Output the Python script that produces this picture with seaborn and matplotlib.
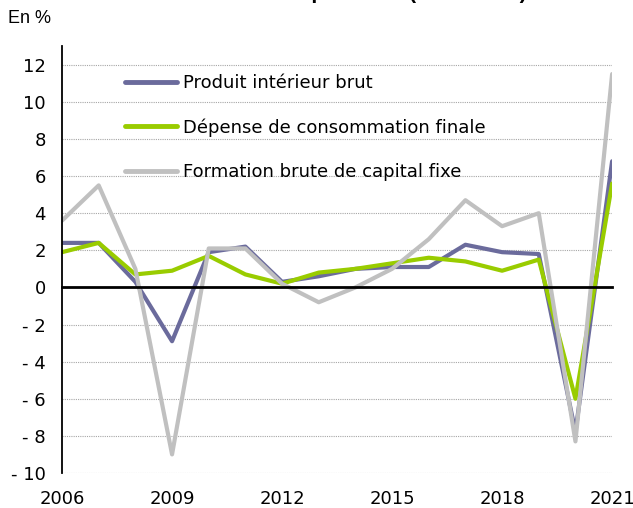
import matplotlib
matplotlib.use("Agg")
import matplotlib.pyplot as plt
import seaborn as sns
import pandas as pd

# Données (évolution en volume, en %)
annees = list(range(2006, 2022))
pib = [2.4, 2.4, 0.3, -2.9, 1.9, 2.2, 0.3, 0.6, 1.0, 1.1, 1.1, 2.3, 1.9, 1.8, -7.8, 6.8]
conso = [1.9, 2.4, 0.7, 0.9, 1.7, 0.7, 0.2, 0.8, 1.0, 1.3, 1.6, 1.4, 0.9, 1.5, -6.0, 5.6]
fbcf = [3.6, 5.5, 1.0, -9.0, 2.1, 2.1, 0.2, -0.8, 0.0, 1.0, 2.6, 4.7, 3.3, 4.0, -8.3, 11.5]
series = ['Produit intérieur brut', 'Dépense de consommation finale',
          'Formation brute de capital fixe']
couleurs = ['#6B6B9C', '#99CC00', '#C0C0C0']
yticks = list(range(-10, 13, 2))
xticks = list(range(2006, 2022, 3))

df = pd.DataFrame({
    'annee': annees * 3,
    'valeur': pib + conso + fbcf,
    'serie': [s for s in series for _ in annees],
})

sns.set_style('white')
plt.rcParams['font.family'] = ['DejaVu Sans']
for k in ['text.color', 'xtick.color', 'ytick.color', 'axes.edgecolor', 'axes.labelcolor']:
    plt.rcParams[k] = 'black'
taille = 13

fig = plt.figure(figsize=(6.33, 5.08), dpi=100)
ax = fig.add_axes([0.098, 0.069, 0.869, 0.84])

sns.lineplot(data=df, x='annee', y='valeur', hue='serie', hue_order=series,
             palette=couleurs, linewidth=3, ax=ax, legend=True)

ax.set_xlim(2006, 2021)
ax.set_ylim(-10, 13)
ax.set_xlabel('')
ax.set_ylabel('')

# grille pointillée
ax.set_yticks(yticks)
ax.set_yticklabels([str(v) if v >= 0 else '- ' + str(-v) for v in yticks], fontsize=taille)
for v in yticks:
    if v != 0:
        ax.axhline(v, color='#A6A6A6', lw=0.8, ls=(0, (1, 1)), zorder=0)

# axe des abscisses à zéro, libellés en bas
ax.spines['top'].set_visible(False)
ax.spines['right'].set_visible(False)
ax.spines['left'].set_linewidth(1.3)
ax.spines['bottom'].set_position(('data', 0))
ax.spines['bottom'].set_linewidth(2)
ax.set_xticks(xticks)
ax.tick_params(axis='x', labelbottom=False, direction='out', length=6, width=2)
ax.tick_params(axis='y', direction='out', length=6.5, width=1.3, pad=5)

sec = ax.secondary_xaxis('bottom')
sec.set_xticks(xticks)
sec.set_xticklabels([str(a) for a in xticks], fontsize=taille)
sec.spines['bottom'].set_visible(False)
sec.tick_params(length=0, pad=12)

leg = ax.legend(loc='upper left', bbox_to_anchor=(0.114, 0.935), frameon=False,
                fontsize=taille, handlelength=2.9, handletextpad=0.3,
                labelspacing=1.45, borderpad=0, borderaxespad=0)
for h in leg.get_lines():
    h.set_linewidth(3.5)

fig.text(0.012, 0.963, 'En %', fontsize=13, va='center', family='Liberation Sans')
fig.text(0.0, 1.002, 'Évolution du PIB et de ses composantes (en volume)',
         fontsize=15, fontweight='bold', va='baseline', family='Liberation Sans')

fig.savefig('out.png', dpi=100)
